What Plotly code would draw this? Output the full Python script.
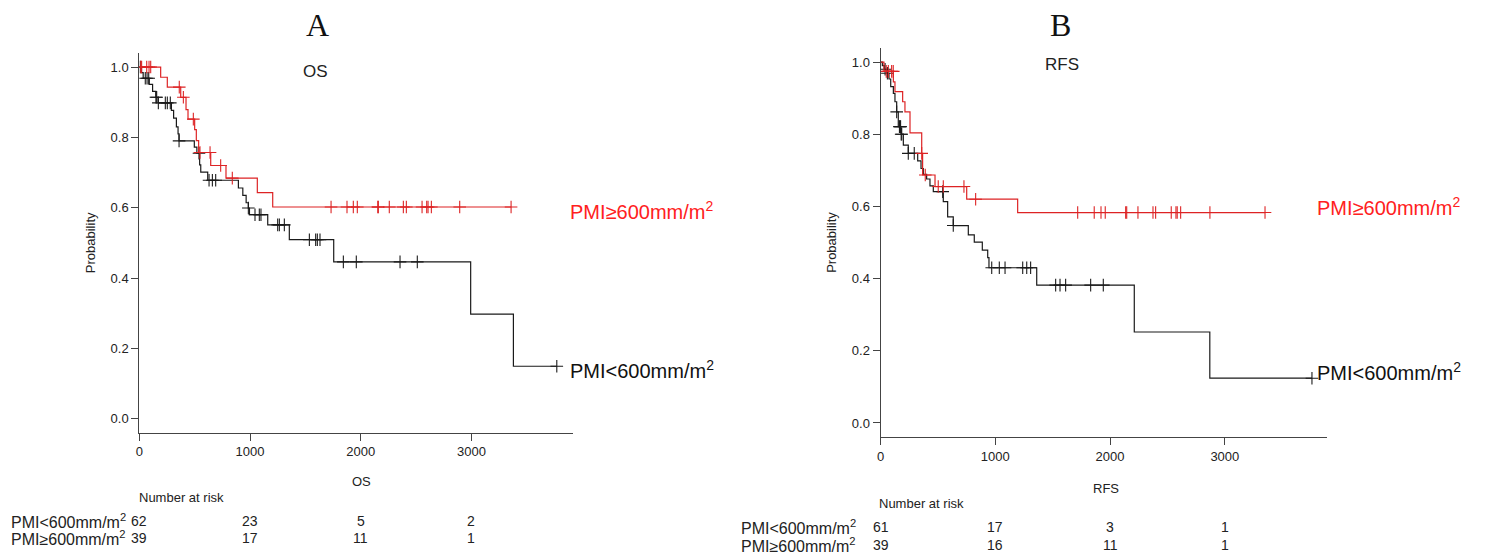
import plotly.graph_objects as go

W, H = 1486, 557

# ---------------- Panel A (OS) ----------------
A_lo_event_t = [20, 35, 90, 120, 150, 170, 290, 310, 335, 350, 359, 497, 520, 545, 555, 618,
                895, 935, 965, 985, 995, 1160, 1355, 1756, 2993, 3379]
A_lo_event_s = [0.984, 0.968, 0.951, 0.931, 0.914, 0.898, 0.877, 0.855, 0.83, 0.81, 0.79, 0.772,
                0.755, 0.722, 0.701, 0.678, 0.656, 0.635, 0.614, 0.599, 0.58, 0.551, 0.509, 0.446,
                0.297, 0.149]
A_lo_cens = [9, 54, 70, 85, 150, 157, 172, 235, 253, 280, 359, 539, 630, 660, 690, 985, 1045,
             1084, 1099, 1250, 1265, 1310, 1536, 1593, 1608, 1632, 1843, 1960, 2355, 2511, 3771]
A_lo_end = 3771

A_hi_event_t = [193, 253, 374, 422, 440, 500, 515, 536, 645, 783, 1066, 1205]
A_hi_event_s = [0.971, 0.943, 0.914, 0.879, 0.852, 0.822, 0.791, 0.757, 0.72, 0.684, 0.643, 0.602]
A_hi_cens = [13, 21, 67, 88, 103, 361, 398, 488, 548, 639, 735, 840, 1732, 1876, 1933, 1969,
             2154, 2159, 2258, 2385, 2412, 2554, 2596, 2608, 2638, 2894, 3358]
A_hi_end = 3358

A_risk_times = [0, 1000, 2000, 3000]
A_risk_lo = [62, 23, 5, 2]
A_risk_hi = [39, 17, 11, 1]

# ---------------- Panel B (RFS) ----------------
B_lo_event_t = [16, 33, 54, 74, 89, 112, 126, 141, 155, 179, 199, 242, 324, 353, 373, 402, 431,
                460, 547, 585, 634, 765, 817, 887, 934, 945, 1361, 2211, 2869]
B_lo_event_s = [0.99, 0.98, 0.969, 0.953, 0.932, 0.913, 0.89, 0.862, 0.821, 0.80, 0.77, 0.747,
                0.726, 0.705, 0.689, 0.676, 0.657, 0.641, 0.613, 0.571, 0.547, 0.521, 0.501,
                0.479, 0.458, 0.43, 0.382, 0.252, 0.124]
B_lo_cens = [40, 60, 141, 165, 170, 175, 180, 185, 242, 294, 542, 634, 969, 1035, 1085, 1239,
             1274, 1308, 1526, 1564, 1613, 1831, 1941, 3759]
B_lo_end = 3759

B_hi_event_t = [30, 112, 126, 193, 213, 257, 359, 367, 475, 751, 1195]
B_hi_event_s = [0.974, 0.945, 0.918, 0.89, 0.862, 0.804, 0.747, 0.687, 0.655, 0.62, 0.583]
B_hi_cens = [50, 68, 97, 111, 359, 390, 503, 547, 727, 829, 1718, 1862, 1921, 1958, 2136, 2145,
             2243, 2374, 2397, 2533, 2574, 2585, 2615, 2870, 3350]
B_hi_end = 3350

B_risk_times = [0, 1000, 2000, 3000]
B_risk_lo = [61, 17, 3, 1]
B_risk_hi = [39, 16, 11, 1]

LABEL_LO = "PMI&lt;600mm/m<sup>2</sup>"
LABEL_HI = "PMI≥600mm/m<sup>2</sup>"

RED = "#DD2324"
BLACK = "#1A1A1A"
AXC = "#444444"
FONT = "Liberation Sans"


def surv_at(t, ev_t, ev_s):
    s = 1.0
    for tt, ss in zip(ev_t, ev_s):
        if tt <= t:
            s = ss
    return s


def add_curve(fig, ev_t, ev_s, cens, end, color, xa, ya):
    xs = [0] + ev_t + [end]
    ys = [1.0] + ev_s + [ev_s[-1]]
    fig.add_trace(go.Scatter(x=xs, y=ys, mode="lines", line=dict(color=color, width=1.2, shape="hv"),
                             xaxis=xa, yaxis=ya, showlegend=False, hoverinfo="skip"))
    cy = [surv_at(c, ev_t, ev_s) for c in cens]
    fig.add_trace(go.Scatter(x=cens, y=cy, mode="markers",
                             marker=dict(symbol="cross-thin", size=9, line=dict(color=color, width=1.1)),
                             xaxis=xa, yaxis=ya, showlegend=False, hoverinfo="skip"))


fig = go.Figure()
add_curve(fig, A_lo_event_t, A_lo_event_s, A_lo_cens, A_lo_end, BLACK, "x", "y")
add_curve(fig, A_hi_event_t, A_hi_event_s, A_hi_cens, A_hi_end, RED, "x", "y")
add_curve(fig, B_lo_event_t, B_lo_event_s, B_lo_cens, B_lo_end, BLACK, "x2", "y2")
add_curve(fig, B_hi_event_t, B_hi_event_s, B_hi_cens, B_hi_end, RED, "x2", "y2")


def px(x):
    return x / W


def py(y):
    return 1 - y / H


axis_common = dict(showline=True, linecolor=AXC, linewidth=1, ticks="outside", ticklen=7,
                   tickcolor=AXC, tickwidth=1, showgrid=False, zeroline=False, automargin=False,
                   tickfont=dict(family=FONT, size=13, color="#222222"))

yt = [0, 0.2, 0.4, 0.6, 0.8, 1.0]
ytt = ["0.0", "0.2", "0.4", "0.6", "0.8", "1.0"]

fig.update_layout(
    width=W, height=H, margin=dict(l=0, r=0, t=0, b=0, autoexpand=False),
    paper_bgcolor="white", plot_bgcolor="white",
    font=dict(family=FONT, color="#222222"),
    xaxis=dict(domain=[px(139.3), px(573.3)], range=[0, 3920], tickvals=[0, 1000, 2000, 3000],
               anchor="y", **axis_common),
    yaxis=dict(domain=[py(432.7), py(53)], range=[-0.04, 1.04], tickvals=yt, ticktext=ytt,
               anchor="x", title=dict(text="Probability", font=dict(size=13, family=FONT), standoff=12),
               **axis_common),
    xaxis2=dict(domain=[px(880.5), px(1327)], range=[0, 3890], tickvals=[0, 1000, 2000, 3000],
                anchor="y2", **axis_common),
    yaxis2=dict(domain=[py(437.4), py(47.6)], range=[-0.04, 1.04], tickvals=yt, ticktext=ytt,
                anchor="x2", title=dict(text="Probability", font=dict(size=13, family=FONT), standoff=12),
                **axis_common),
)

ann = []


def add_text(text, x, y, size, color="#222222", xanchor="center", family=FONT, xref="paper"):
    ann.append(dict(text=text, x=x, y=y, xref=xref, yref="paper", xanchor=xanchor, yanchor="middle",
                    showarrow=False, font=dict(size=size, color=color, family=family)))


# Panel letters
add_text("A", px(317), py(25), 32, "#111111", family="Liberation Serif")
add_text("B", px(1060), py(25), 32, "#111111", family="Liberation Serif")
# inner titles
add_text("OS", px(315), py(71), 17)
add_text("RFS", px(1062), py(64), 17)
# x titles
add_text("OS", px(361), py(481), 13)
add_text("RFS", px(1106), py(489), 13)
# curve labels
add_text(LABEL_HI, px(568), py(210), 20, "#FF2020", xanchor="left")
add_text(LABEL_LO, px(568), py(369), 20, "#111111", xanchor="left")
add_text(LABEL_HI, px(1315), py(206), 20, "#FF2020", xanchor="left")
add_text(LABEL_LO, px(1315), py(371), 20, "#111111", xanchor="left")

# risk tables
add_text("Number at risk", px(137), py(497), 13, xanchor="left")
add_text(LABEL_LO, px(9), py(521), 16, xanchor="left")
add_text(LABEL_HI, px(9), py(538), 16, xanchor="left")
for t, n in zip(A_risk_times, A_risk_lo):
    ann.append(dict(text=str(n), x=t, y=py(521), xref="x", yref="paper", showarrow=False,
                    xanchor="center", yanchor="middle", font=dict(size=14, family=FONT, color="#222222")))
for t, n in zip(A_risk_times, A_risk_hi):
    ann.append(dict(text=str(n), x=t, y=py(538), xref="x", yref="paper", showarrow=False,
                    xanchor="center", yanchor="middle", font=dict(size=14, family=FONT, color="#222222")))

add_text("Number at risk", px(877), py(503), 13, xanchor="left")
add_text(LABEL_LO, px(739), py(527), 16, xanchor="left")
add_text(LABEL_HI, px(739), py(545), 16, xanchor="left")
for t, n in zip(B_risk_times, B_risk_lo):
    ann.append(dict(text=str(n), x=t, y=py(527), xref="x2", yref="paper", showarrow=False,
                    xanchor="center", yanchor="middle", font=dict(size=14, family=FONT, color="#222222")))
for t, n in zip(B_risk_times, B_risk_hi):
    ann.append(dict(text=str(n), x=t, y=py(545), xref="x2", yref="paper", showarrow=False,
                    xanchor="center", yanchor="middle", font=dict(size=14, family=FONT, color="#222222")))

fig.update_layout(annotations=ann)
fig.write_html("out.html")
